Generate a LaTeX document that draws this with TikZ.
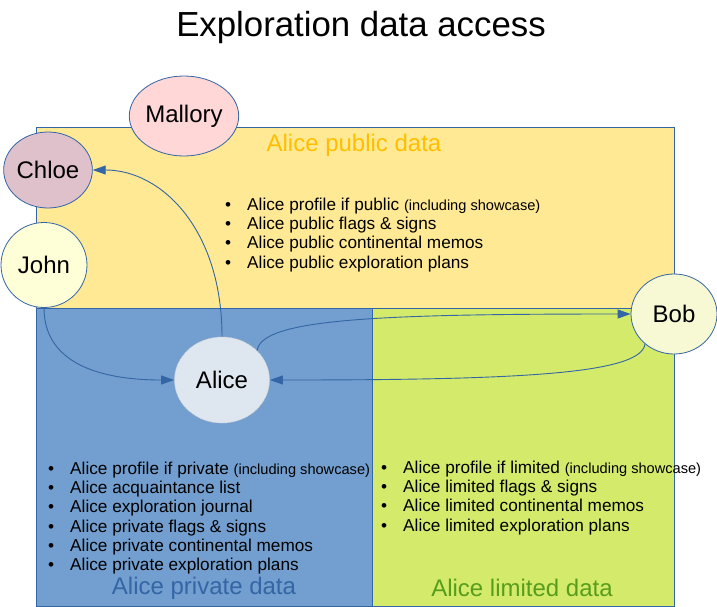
\documentclass[tikz,border=0pt]{standalone}
\usepackage{fontspec}
\setmainfont{Liberation Sans}
\usetikzlibrary{shapes.geometric,arrows.meta}
\definecolor{edgeblue}{HTML}{3465A4}
\definecolor{pubfill}{HTML}{FFE994}
\definecolor{privfill}{HTML}{729FCF}
\definecolor{limfill}{HTML}{D4EA6B}
\definecolor{pubtext}{HTML}{FFBF00}
\definecolor{privtext}{HTML}{3465A4}
\definecolor{limtext}{HTML}{579D1C}
\definecolor{malloryfill}{HTML}{FFD7D7}
\definecolor{chloefill}{HTML}{DFC1CB}
\definecolor{johnfill}{HTML}{FFFFD7}
\definecolor{bobfill}{HTML}{F6F9D4}
\definecolor{alicefill}{HTML}{DEE6EF}
\begin{document}
\begin{tikzpicture}[x=1pt,y=-1pt,
  region/.style={draw=edgeblue,line width=0.8pt,anchor=north west,inner sep=0pt,outer sep=0pt},
  person/.style={ellipse,draw=edgeblue,line width=0.8pt,inner sep=0pt,font=\fontsize{24}{28}\selectfont},
  conn/.style={draw=edgeblue,line width=0.9pt,-{Triangle[length=13pt,width=9pt]}},
  regiontitle/.style={font=\fontsize{24}{28}\selectfont,inner sep=0pt},
  bulletlist/.style={anchor=north west,inner sep=0pt,font=\fontsize{17.2}{19.3}\selectfont}
]
\useasboundingbox (0,0) rectangle (717,606);
\fill[white] (0,0) rectangle (717,606);
\node[font=\fontsize{34.8}{40}\selectfont,inner sep=0pt,anchor=base] (title) at (361,36) {Exploration data access};

\node[region,fill=pubfill,minimum width=638pt,minimum height=181pt] (pubbox) at (36,127) {};
\node[region,fill=privfill,minimum width=336pt,minimum height=298pt] (privbox) at (36,308) {};
\node[region,fill=limfill,minimum width=302pt,minimum height=298pt] (limbox) at (372,308) {};

\node[regiontitle,text=pubtext] (pubtitle) at (354,145) {Alice public data};
\node[regiontitle,text=privtext] (privtitle) at (204,588) {Alice private data};
\node[regiontitle,text=limtext] (limtitle) at (522,588) {Alice limited data};

\node[bulletlist] (publist) at (225,196.5) {\begin{tabular}{@{}l@{\hspace{16pt}}l@{}}
\textbullet & Alice profile if public {\fontsize{14.6}{16}\selectfont(including showcase)}\\
\textbullet & Alice public flags \& signs\\
\textbullet & Alice public continental memos\\
\textbullet & Alice public exploration plans
\end{tabular}};

\node[bulletlist] (privlist) at (48,460.5) {\begin{tabular}{@{}l@{\hspace{16pt}}l@{}}
\textbullet & Alice profile if private {\fontsize{14.6}{16}\selectfont(including showcase)}\\
\textbullet & Alice acquaintance list\\
\textbullet & Alice exploration journal\\
\textbullet & Alice private flags \& signs\\
\textbullet & Alice private continental memos\\
\textbullet & Alice private exploration plans
\end{tabular}};

\node[bulletlist] (limlist) at (381,459.5) {\begin{tabular}{@{}l@{\hspace{16pt}}l@{}}
\textbullet & Alice profile if limited {\fontsize{14.6}{16}\selectfont(including showcase)}\\
\textbullet & Alice limited flags \& signs\\
\textbullet & Alice limited continental memos\\
\textbullet & Alice limited exploration plans
\end{tabular}};

\node[person,fill=malloryfill,minimum width=86pt,minimum height=80pt] (mallory) at (184,116) {Mallory};
\node[person,fill=chloefill,minimum width=86pt,minimum height=76pt] (chloe) at (48,170) {Chloe};
\node[person,fill=johnfill,minimum width=86pt,minimum height=85pt] (john) at (44,265) {John};
\node[person,fill=bobfill,minimum width=86pt,minimum height=80pt] (bob) at (674,314) {Bob};
\node[person,fill=alicefill,draw=gray!35,densely dotted,minimum width=95pt,minimum height=86pt] (alice) at (222,380) {Alice};

\draw[conn] (alice.north) .. controls +(0,-107) and +(69,0) .. (chloe.east);
\draw[conn] (john.south) .. controls +(0,55) and +(-75,0) .. (alice.west);
\draw[conn] (alice.40) .. controls +(4,-32) and +(-250,0) .. (bob.west);
\draw[conn] (bob.226) .. controls +(-4,30) and +(250,0) .. (alice.east);
\end{tikzpicture}
\end{document}
